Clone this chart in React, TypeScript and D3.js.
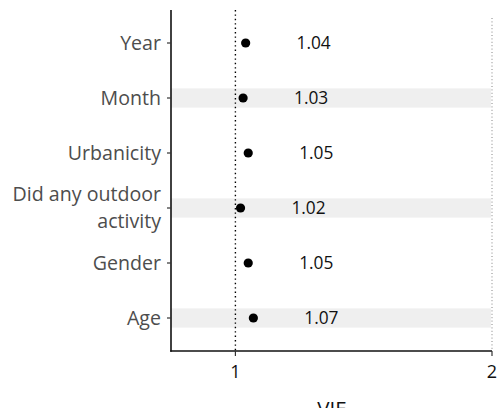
import React from "react";
import * as d3 from "d3";

const categories: string[][] = [["Year"], ["Month"], ["Urbanicity"], ["Did any outdoor", "activity"], ["Gender"], ["Age"]];
const vifValues: number[] = [1.04, 1.03, 1.05, 1.02, 1.05, 1.07];
const valueLabels: string[] = ["1.04", "1.03", "1.05", "1.02", "1.05", "1.07"];
const shaded: boolean[] = [false, true, false, true, false, true];
const xTicks: number[] = [1, 2];
const xTitle = "VIF";

export default function App() {
  const W = 498, H = 408;
  const left = 171, right = 492, top = 10, bottom = 351;
  const x = d3.scaleLinear().domain([0.749, 2]).range([left, right]);
  const n = categories.length;
  const unit = (bottom - top) / (n - 1 + 1.2);
  const y = (i: number) => top + (0.6 + i) * unit;
  const font = "'Open Sans', sans-serif";
  return (
    <svg width={W} height={H} style={{ position: "absolute", left: 0, top: 0 }}>
      <rect width={W} height={H} fill="#fff" />
      {categories.map((c, i) =>
        shaded[i] ? (
          <rect key={"b" + i} x={left} y={y(i) - unit * 0.175} width={x(2) - left - 1} height={unit * 0.35} fill="#efefef" />
        ) : null
      )}
      <line x1={x(1)} x2={x(1)} y1={top} y2={bottom} stroke="#000" strokeWidth={1.4} strokeDasharray="1.4 3" />
      <line x1={x(2)} x2={x(2)} y1={top + 8} y2={bottom} stroke="#777" strokeWidth={0.9} strokeDasharray="1 2.4" />
      {vifValues.map((v, i) => (
        <circle key={"p" + i} cx={x(v)} cy={y(i)} r={4.6} fill="#000" />
      ))}
      {vifValues.map((v, i) => (
        <text key={"t" + i} x={x(v + 0.265)} y={y(i)} dy="0.36em" textAnchor="middle" fontFamily={font} fontSize={17.3} fill="#111">
          {valueLabels[i]}
        </text>
      ))}
      <line x1={left} x2={left} y1={top} y2={bottom + 0.75} stroke="#111" strokeWidth={1.6} />
      <line x1={left - 0.8} x2={right} y1={bottom} y2={bottom} stroke="#111" strokeWidth={1.6} />
      {categories.map((c, i) => (
        <g key={"c" + i}>
          <line x1={left - 4} x2={left} y1={y(i)} y2={y(i)} stroke="#333" strokeWidth={1.2} />
          {c.map((line, j) => (
            <text key={j} x={left - 10} y={y(i) + (j - (c.length - 1) / 2) * 27} dy="0.35em" textAnchor="end" fontFamily={font} fontSize={19.6} fill="#4d4d4d">
              {line}
            </text>
          ))}
        </g>
      ))}
      {xTicks.map((t) => (
        <g key={"x" + t}>
          <line x1={x(t)} x2={x(t)} y1={bottom} y2={bottom + 5} stroke="#333" strokeWidth={1.2} />
          <text x={x(t)} y={378} textAnchor="middle" fontFamily={font} fontSize={18} fill="#111">
            {t}
          </text>
        </g>
      ))}
      <text x={(left + right) / 2} y={416} textAnchor="middle" fontFamily={font} fontSize={20.5} fill="#111">
        {xTitle}
      </text>
    </svg>
  );
}
